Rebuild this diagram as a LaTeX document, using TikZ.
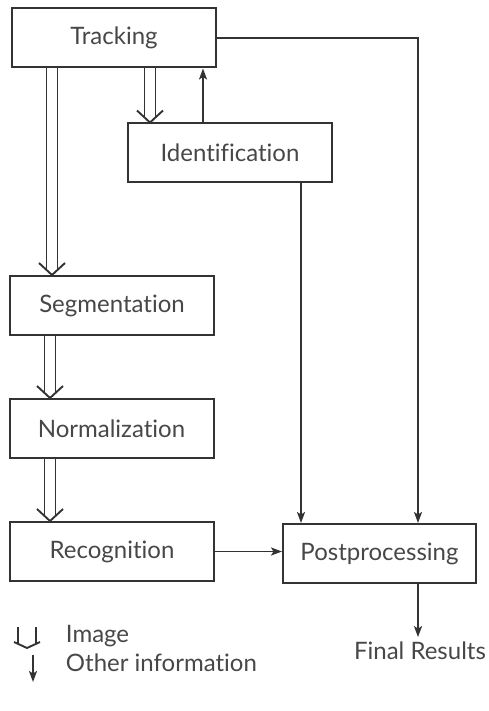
\documentclass[tikz,border=0pt]{standalone}
\usepackage{fontspec}
\setmainfont{Lato}[Ligatures={NoCommon}]
\usetikzlibrary{arrows.meta,calc}
\newcommand\imgarr[3]{%
  \draw (#1.south -| #3,0) ++(-5.5,0) -- ($(#2.north -| #3,0)+(-5.5,-5)$);
  \draw (#1.south -| #3,0) ++(5.5,0) -- ($(#2.north -| #3,0)+(5.5,-5)$);
  \draw[line join=miter] ($(#2.north -| #3,0)+(-13,-12)$) -- (#2.north -| #3,0) -- ($(#2.north -| #3,0)+(13,-12)$);
}
\begin{document}
\begin{tikzpicture}[x=1pt,y=-1pt,line width=1.9pt,draw=black!80,
  box/.style={draw=black!80,line width=2pt,minimum width=204pt,minimum height=59pt,inner sep=0pt,font=\fontsize{24}{28}\selectfont,text=black!72},
  lbl/.style={inner sep=0pt,font=\fontsize{24}{28}\selectfont,text=black!72},
  arr/.style={-{Stealth[length=11pt,width=8pt,inset=2.5pt]}}]
\useasboundingbox (0,0) rectangle (489,711);
\node[box] (trk) at (114,38) {Tracking};
\node[box] (idf) at (230,153) {Identification};
\node[box] (seg) at (112,305.5) {Segmentation};
\node[box] (nrm) at (111.5,428.5) {Normalization};
\node[box] (rec) at (112,551.5) {Recognition};
\node[box,minimum width=193pt] (pp) at (379.5,553.5) {Postprocessing};
\node[lbl] (fr) at (420,651) {Final Results};
\node[lbl,anchor=west] (limg) at (65,636) {Image};
\node[lbl,anchor=west] (loth) at (65,663) {Other information};
\coordinate (ia) at (27,627);
\coordinate (ib) at (27,648);
\coordinate (oa) at (33,655);
\coordinate (ob) at (33,682);

\draw[arr] (trk.east) -| ([xshift=38.5pt]pp.north);
\draw[arr] (idf.south -| 301,0) -- (pp.north -| 301,0);
\draw[arr] (idf.north -| 203,0) -- (trk.south -| 203,0);
\draw[arr] (rec.east) -- (rec.east -| pp.west);
\draw[arr] (pp.south -| 418,0) -- ([yshift=4pt]fr.north -| 418,0);

\imgarr{trk}{idf}{150}
\imgarr{trk}{seg}{52}
\imgarr{seg}{nrm}{50}
\imgarr{nrm}{rec}{50}

\draw ([xshift=-9pt]ia) -- ([xshift=-9pt,yshift=4pt]ib);
\draw ([xshift=9pt]ia) -- ([xshift=9pt,yshift=4pt]ib);
\draw[line join=miter] ($(ib)+(-13,-6)$) -- (ib) -- ($(ib)+(13,-6)$);
\draw[arr] (oa) -- (ob);
\end{tikzpicture}
\end{document}
